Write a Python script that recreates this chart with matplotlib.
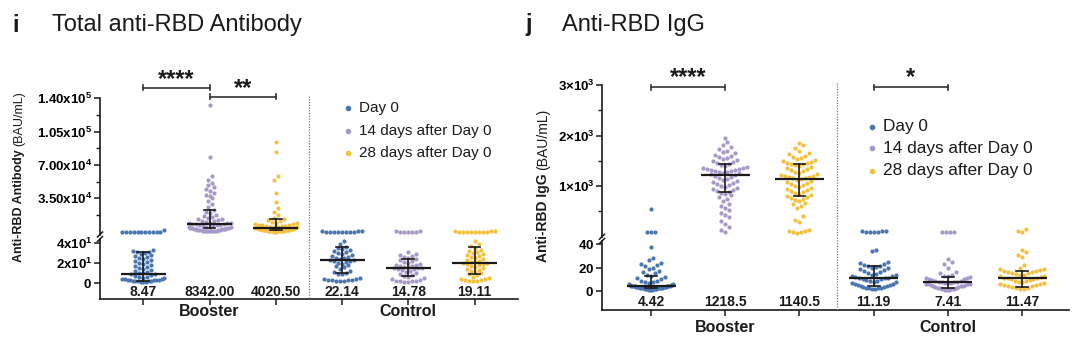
import numpy as np
import matplotlib
matplotlib.use('Agg')
import matplotlib.pyplot as plt
from matplotlib.lines import Line2D
import matplotlib.transforms as mtransforms

plt.rcParams['font.family'] = ['Liberation Sans', 'DejaVu Sans']
plt.rcParams['mathtext.fontset'] = 'custom'
plt.rcParams['mathtext.rm'] = 'Liberation Sans'
plt.rcParams['mathtext.bf'] = 'Liberation Sans:bold'

# ---------------- DATA ----------------
groups = ['Booster', 'Control']
series = ['Day 0', '14 days after Day 0', '28 days after Day 0']
colors = ['#4a76b2', '#a698c8', '#f3c141']

# Panel i: Total anti-RBD Antibody (BAU/mL)
i_booster_d0 = [60, 65, 70, 75, 80, 90, 100, 110, 120, 130, 150, 2100,
                33, 32, 31, 30.5, 30, 29, 28, 27, 26, 25, 24, 23, 22, 21, 20, 19, 18, 17, 16, 15,
                14, 13, 12, 11, 10, 9.5, 9, 8.47, 8, 7, 6, 5.5, 5, 4.5, 4, 3.6, 3.3, 3, 2.8, 2.6,
                2.4, 2.2, 2, 1.8, 1.6, 1.4, 1.2, 1, 0.8, 0.6]
i_booster_14 = [133000, 78000, 58000, 54000, 51000, 49000, 47000, 45000, 43000, 41000, 39000,
                37000, 35000, 32000, 29000, 26000, 23000, 21000, 19500, 18000, 16500, 15500,
                14500, 13500, 12800, 12000, 11300, 10700, 10100, 9600, 9200, 8900, 8600, 8400,
                8200, 7800, 7400, 7000, 6600, 6200, 5800, 5400, 5000, 4700, 4400, 4100, 3800,
                3600, 3400, 3200, 3000, 2800, 2600, 2400, 2200, 2000, 1800, 1600, 1400, 1200,
                1000, 900, 800, 700, 600, 500, 400, 300]
i_booster_28 = [94600, 84000, 58000, 54000, 40500, 31500, 24500, 21000, 17500, 14500, 13000,
                12000, 11000, 10000, 9500, 9000, 8500, 8000, 7500, 7000, 6600, 6200, 5800, 5500,
                5200, 4900, 4700, 4500, 4300, 4100, 3900, 3700, 3500, 3300, 3100, 2900, 2700,
                2500, 2300, 2100, 1900, 1800, 1700, 1600, 1500, 1400, 1300, 1200, 1100, 1000,
                900, 800, 700, 600, 500, 400, 300, 200, 150, 100]
i_control_d0 = [50, 60, 70, 80, 90, 100, 120, 140, 160, 180, 200,
                42, 39, 36, 35, 34, 33, 32, 31, 30, 29, 28, 27, 26, 25, 24.5, 24, 23, 22.5, 22,
                21.5, 21, 20, 19, 18, 17, 16, 14, 12, 11, 10, 9, 8.5, 5, 4, 3.5, 3, 2.8, 2.5,
                2.2, 2, 1.8, 1.5]
i_control_14 = [60, 80, 100, 120, 140, 160, 180,
                31, 29, 28, 27, 26, 25, 24, 23, 22, 21, 20, 19, 18, 17.5, 17, 16.5, 16, 15.5,
                15, 14.8, 14.5, 14, 13.5, 13, 12, 11, 10, 9, 8, 7, 6, 5, 4, 2.5, 2, 1.8, 1.5,
                1.2, 1, 0.8]
i_control_28 = [50, 60, 70, 80, 90, 100, 120, 140, 160, 180, 200,
                42, 39, 37, 35, 33, 32, 31, 30, 29, 28, 27, 26, 25, 24, 23, 22, 21, 20.5, 20,
                19.5, 19, 18.5, 18, 17, 16, 15, 14, 13, 12, 11, 10, 9, 8, 6, 5, 4, 3.5, 3, 2.5,
                2, 1.8, 1.5]
i_medians = [8.47, 8342.00, 4020.50, 22.14, 14.78, 19.11]
i_median_labels = ['8.47', '8342.00', '4020.50', '22.14', '14.78', '19.11']
i_q1 = [1.8, 3400, 1600, 9.5, 6.2, 8.9]
i_q3 = [31, 22700, 13000, 36, 23.8, 36]

# Panel j: Anti-RBD IgG (BAU/mL)
j_booster_d0 = [543, 90, 88, 86,
                37, 28, 26, 24, 23, 22, 21, 20, 19, 17, 16, 15, 14, 13, 12, 11, 10, 9, 8.5, 8,
                7.5, 7, 6.5, 6, 5.6, 5.3, 5, 4.8, 4.6, 4.42, 4.3, 4.2, 4.1, 4, 3.9, 3.8, 3.7,
                3.6, 3.5, 3.4, 3.3, 3.2, 3.1, 3, 2.9, 2.8, 2.7, 2.6, 2.5, 2.4, 2.3, 2.2, 2.1, 2,
                1.9, 1.8, 1.7, 1.6, 1.5, 1.4, 1.3, 1.2]
j_booster_14 = [1960, 1880, 1820, 1780, 1740, 1700, 1680, 1650, 1620, 1600, 1580, 1560, 1540,
                1520, 1500, 1480, 1460, 1440, 1420, 1400, 1380, 1360, 1350, 1340, 1330, 1320,
                1310, 1300, 1290, 1280, 1270, 1260, 1250, 1240, 1230,
                1210, 1190, 1170, 1150, 1130, 1110, 1090, 1070, 1050, 1030, 1010, 990, 970,
                950, 930, 910, 890, 870, 850, 820, 780, 740, 700, 650, 600, 560, 520, 470, 420,
                380, 320, 260, 200, 140, 100]
j_booster_28 = [1860, 1820, 1760, 1700, 1660, 1630, 1600, 1580, 1560, 1540, 1520, 1500, 1480,
                1460, 1450, 1440, 1430, 1420, 1400, 1380, 1360, 1340, 1320, 1300, 1280, 1260,
                1240, 1220, 1210, 1200, 1190, 1180, 1170, 1160, 1150,
                1130, 1110, 1090, 1070, 1050, 1030, 1010, 990, 970, 950, 930, 910, 890, 870,
                850, 820, 800, 780, 760, 740, 720, 700, 670, 640, 600, 560, 400, 340, 300, 130,
                120, 110, 100, 90, 80]
j_control_d0 = [120, 110, 105, 100, 95, 90, 85,
                35, 34, 25, 24, 23, 22, 21.5, 21, 20.5, 20, 19.5, 19, 18, 17, 16, 15, 14.5, 14,
                13.5, 13, 12.5, 12, 11.5, 11.19, 11, 10.5, 10, 9.5, 9, 8.5, 8, 7.5, 7, 6.5, 6,
                5.5, 5, 4.5, 4, 3.5, 3.2, 3, 2.8, 2.6, 2.4, 2.2, 2]
j_control_14 = [100, 95, 90, 88,
                27, 25, 23, 20, 16, 15, 14, 13, 12.5, 12, 11.5, 11, 10.5, 10, 9.5, 9, 8.5, 8,
                7.8, 7.6, 7.41, 7.2, 7, 6.8, 6.5, 6.2, 6, 5.7, 5.4, 5, 4.7, 4.4, 4, 3.7, 3.4, 3,
                2.7, 2.4, 2, 1.8, 1.6, 1.4, 1.2, 1]
j_control_28 = [150, 110, 95,
                35, 33, 31, 29, 22, 20, 19, 18.5, 18, 17.5, 17, 16.5, 16, 15.5, 15, 14.5, 14,
                13.5, 13, 12.5, 12, 11.5, 11.47, 11, 10.5, 10, 9.5, 9, 8.5, 8, 7.5, 7, 6.5, 6,
                5.5, 5, 4.5, 4, 3.5, 3, 2.5, 2, 1.5]
j_medians = [4.42, 1218.5, 1140.5, 11.19, 7.41, 11.47]
j_median_labels = ['4.42', '1218.5', '1140.5', '11.19', '7.41', '11.47']
j_q1 = [2.5, 880, 800, 4.5, 3.0, 3.9]
j_q3 = [12.9, 1440, 1440, 21.2, 12.2, 17.5]

# ---------------- FIGURE ----------------
W, H = 1080, 344
fig = plt.figure(figsize=(10.8, 3.44), dpi=100)


def fx(px):
    return px / W


def fy(py):
    return 1 - py / H


INK = '#1a1a1a'


def style_axes(ax, bottom):
    for s in ['top', 'right']:
        ax.spines[s].set_visible(False)
    ax.spines['left'].set_linewidth(1.2)
    ax.spines['left'].set_color(INK)
    if bottom:
        ax.spines['bottom'].set_linewidth(1.2)
        ax.spines['bottom'].set_color(INK)
    else:
        ax.spines['bottom'].set_visible(False)
    ax.tick_params(axis='y', which='major', length=4, width=1.1, color=INK, pad=1.5,
                   labelsize=9.5)
    ax.tick_params(axis='y', which='minor', length=3, width=1.0, color=INK)
    ax.patch.set_alpha(0)


def swarm(ypix, D, maxhalf, binh):
    """Row-binned scatter layout (GraphPad-like): points in one pixel band share a row."""
    ypix = np.asarray(ypix)
    order = np.argsort(ypix)
    xs = np.zeros(len(ypix))
    bins = []
    for idx in order:
        if bins and ypix[idx] - ypix[bins[-1][0]] < binh:
            bins[-1].append(idx)
        else:
            bins.append([idx])
    for b in bins:
        n = len(b)
        if n == 1:
            continue
        sp = min(D, 2 * maxhalf / (n - 1))
        pos = (np.arange(n) - (n - 1) / 2) * sp
        seq = sorted(range(n), key=lambda k: abs(pos[k]))
        for k, idx in enumerate(b):
            xs[idx] = pos[seq[k]]
    return xs


def draw_panel(cfg):
    L, R = fx(cfg['left']), fx(cfg['right'])
    up = fig.add_axes([L, fy(cfg['up_bottom']), R - L, fy(cfg['up_top']) - fy(cfg['up_bottom'])])
    lo = fig.add_axes([L, fy(cfg['lo_bottom']), R - L, fy(cfg['lo_top']) - fy(cfg['lo_bottom'])])
    for ax in (up, lo):
        ax.set_xlim(*cfg['xlim'])
    up.set_ylim(*cfg['up_lim'])
    lo.set_ylim(*cfg['lo_lim'])
    style_axes(up, False)
    style_axes(lo, True)
    up.set_xticks([])
    up.set_yticks(cfg['up_ticks'])
    up.set_yticklabels(cfg['up_ticklabels'], fontweight='bold')
    up.set_yticks(cfg['up_minor'], minor=True)
    lo.set_yticks(cfg['lo_ticks'])
    lo.set_yticklabels(cfg['lo_ticklabels'], fontweight='bold')
    lo.set_xticks(range(6))
    lo.set_xticklabels([''] * 6)
    lo.tick_params(axis='x', length=4, width=1.1, color=INK)

    split = cfg['lo_lim'][1]
    ppx = lo.transData.transform((1, 0))[0] - lo.transData.transform((0, 0))[0]
    D = 4.0
    for g, vals in enumerate(cfg['data']):
        vals = np.asarray(vals, float)
        col = colors[g % 3]
        ypix = np.array([(up if v > split else lo).transData.transform((0, v))[1] for v in vals])
        offs = swarm(ypix, D, cfg['maxhalf'], cfg['binh']) / ppx
        for ax, mask in ((up, vals > split), (lo, vals <= split)):
            if mask.any():
                ax.scatter(g + offs[mask], vals[mask], s=9, color=col, linewidths=0,
                           clip_on=False, zorder=2)
        # median + IQR
        m, a, b = cfg['medians'][g], cfg['q1'][g], cfg['q3'][g]
        ax = up if m > split else lo
        ax.plot([g - cfg['mw'], g + cfg['mw']], [m, m], color=INK, lw=1.6, zorder=3,
                clip_on=False, solid_capstyle='butt')
        ax.plot([g, g], [a, b], color=INK, lw=1.2, zorder=3, clip_on=False)
        for q in (a, b):
            ax.plot([g - cfg['cw'], g + cfg['cw']], [q, q], color=INK, lw=1.2, zorder=3,
                    clip_on=False)

    bt = mtransforms.blended_transform_factory(lo.transData, fig.transFigure)
    for g, lab in enumerate(cfg['labels']):
        fig.text(g, fy(cfg['label_y']), lab, transform=bt, ha='center', va='center',
                 fontsize=10, fontweight='bold', color=INK)
    fig.text(1, fy(cfg['group_y']), groups[0], transform=bt, ha='center', va='center',
             fontsize=11.5, fontweight='bold', color=INK)
    fig.text(4, fy(cfg['group_y']), groups[1], transform=bt, ha='center', va='center',
             fontsize=11.5, fontweight='bold', color=INK)

    # dotted divider
    fig.add_artist(Line2D([2.5, 2.5], [fy(cfg['up_top'] - 2), fy(cfg['lo_bottom'])],
                          transform=bt, color='#777777', lw=0.9, ls=(0, (1, 1.2))))

    # axis break marks
    xs = cfg['left']
    for yb in (cfg['up_bottom'], cfg['lo_top']):
        fig.add_artist(Line2D([fx(xs - 2.5), fx(xs + 2.5)], [fy(yb + 2.5), fy(yb - 2.5)],
                              color=INK, lw=1.1))

    # significance brackets
    for (g0, g1, ybar, ystar, txt) in cfg['sig']:
        fig.add_artist(Line2D([g0, g1], [fy(ybar), fy(ybar)], transform=bt, color='#333333',
                              lw=1.2))
        for gg in (g0, g1):
            fig.add_artist(Line2D([gg, gg], [fy(ybar - 2.5), fy(ybar + 2.5)], transform=bt,
                                  color='#333333', lw=1.2))
        fig.text((g0 + g1) / 2, fy(ystar), txt, transform=bt, ha='center', va='center',
                 fontsize=17, fontweight='bold', color=INK)

    # legend
    lx, tx, rows, fs = cfg['legend']
    for k, name in enumerate(series):
        fig.add_artist(Line2D([fx(lx)], [fy(rows[k])], marker='o', markersize=3,
                              color=colors[k], lw=0))
        fig.text(fx(tx), fy(rows[k]), name, ha='left', va='center', fontsize=fs, color=INK)

    # title
    fig.text(fx(cfg['letter_x']), fy(25), cfg['letter'], ha='left', va='center', fontsize=17,
             fontweight='bold', color=INK)
    fig.text(fx(cfg['title_x']), fy(25), cfg['title'], ha='left', va='center', fontsize=17,
             color=INK)

    # y label (bold part + regular part)
    r = fig.canvas.get_renderer()
    yx, ybot = cfg['ylabel_pos']
    t1 = fig.text(fx(yx), fy(ybot), cfg['ylabel'][0], rotation=90, ha='center', va='bottom',
                  fontsize=cfg['ylabel_fs'], fontweight='bold', color=INK)
    bb = t1.get_window_extent(r)
    fig.text(fx(yx), (bb.y1 + 3) / H, cfg['ylabel'][1], rotation=90, ha='center',
             va='bottom', fontsize=cfg['ylabel_fs'], color=INK)
    return up, lo


cfg_i = dict(
    left=100, right=518, up_top=98.4, up_bottom=234.5, lo_top=239, lo_bottom=298.5,
    xlim=(-0.653, 5.656), up_lim=(-3000, 140000), lo_lim=(-16, 43.5),
    up_ticks=[35000, 70000, 105000, 140000],
    up_ticklabels=[r'$\mathbf{3.50x10^{4}}$', r'$\mathbf{7.00x10^{4}}$',
                   r'$\mathbf{1.05x10^{5}}$', r'$\mathbf{1.40x10^{5}}$'],
    up_minor=[17500, 52500, 87500, 122500],
    lo_ticks=[0, 20, 40],
    lo_ticklabels=[r'$\mathbf{0}$', r'$\mathbf{2x10^{1}}$', r'$\mathbf{4x10^{1}}$'],
    data=[i_booster_d0, i_booster_14, i_booster_28, i_control_d0, i_control_14, i_control_28],
    medians=i_medians, q1=i_q1, q3=i_q3, labels=i_median_labels,
    mw=0.34, cw=0.09, label_y=291.5, group_y=312, maxhalf=21, binh=4.2,
    sig=[(0, 1, 87.7, 79.5, '****'), (1, 2, 96.7, 88.5, '**')],
    legend=(348, 358.6, [108.3, 130.7, 152.7], 11),
    letter='i', letter_x=12, title='Total anti-RBD Antibody', title_x=51.7,
    ylabel=('Anti-RBD Antibody', '(BAU/mL)'), ylabel_pos=(19, 262), ylabel_fs=9,
)

cfg_j = dict(
    left=602, right=1069, up_top=85, up_bottom=236.7, lo_top=241, lo_bottom=309.5,
    xlim=(-0.66, 5.63), up_lim=(0, 3000), lo_lim=(-15.5, 42.5),
    up_ticks=[1000, 2000, 3000],
    up_ticklabels=[r'$\mathbf{1×10^{3}}$', r'$\mathbf{2×10^{3}}$', r'$\mathbf{3×10^{3}}$'],
    up_minor=[500, 1500, 2500],
    lo_ticks=[0, 20, 40],
    lo_ticklabels=[r'$\mathbf{0}$', r'$\mathbf{20}$', r'$\mathbf{40}$'],
    data=[j_booster_d0, j_booster_14, j_booster_28, j_control_d0, j_control_14, j_control_28],
    medians=j_medians, q1=j_q1, q3=j_q3, labels=j_median_labels,
    mw=0.33, cw=0.08, label_y=302, group_y=328, maxhalf=22, binh=6.5,
    sig=[(0, 1, 87.3, 77.5, '****'), (3, 4, 87.3, 77.5, '*')],
    legend=(871.7, 883, [126.7, 148.3, 170.7], 12.4),
    letter='j', letter_x=525, title='Anti-RBD IgG', title_x=562,
    ylabel=('Anti-RBD IgG', '(BAU/mL)'), ylabel_pos=(543, 262), ylabel_fs=10,
)

draw_panel(cfg_i)
draw_panel(cfg_j)

fig.savefig('out.png', dpi=100)
